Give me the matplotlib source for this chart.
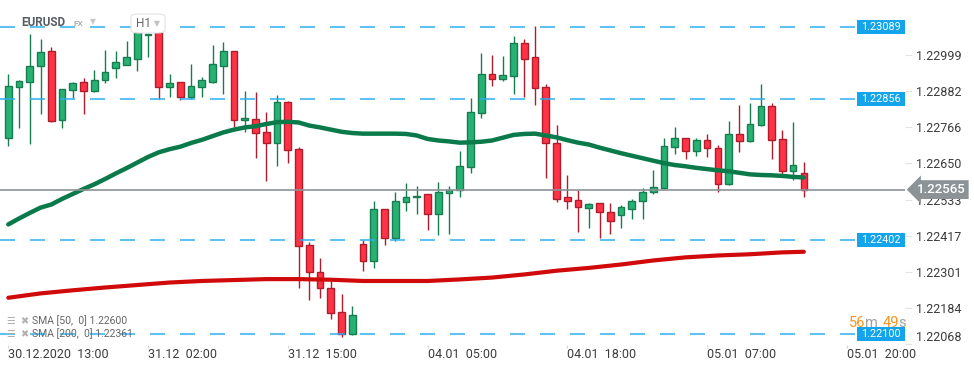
import matplotlib
matplotlib.use("Agg")
import matplotlib.pyplot as plt
import matplotlib.transforms as mtransforms
from matplotlib.patches import Rectangle, FancyBboxPatch

plt.rcParams["font.family"] = ["Roboto", "DejaVu Sans"]
plt.rcParams["lines.scale_dashes"] = False

# EURUSD H1 candles, 30.12.2020 13:00 onwards
opens = [1.22730, 1.22894, 1.22910, 1.22964, 1.23011, 1.22788, 1.22884, 1.22910, 1.22881, 1.22917,
         1.22955, 1.22967, 1.22984, 1.23061, 1.23072, 1.22894, 1.22910, 1.22862, 1.22894, 1.22912,
         1.22962, 1.23010, 1.22788, 1.22793, 1.22749, 1.22714, 1.22846, 1.22695, 1.22386, 1.22299,
         1.22250, 1.22170, 1.22099, 1.22389, 1.22334, 1.22501, 1.22408, 1.22524, 1.22540, 1.22550,
         1.22485, 1.22553, 1.22563, 1.22637, 1.22810, 1.22936, 1.22920, 1.22929, 1.23036, 1.22991,
         1.22894, 1.22714, 1.22540, 1.22530, 1.22505, 1.22521, 1.22492, 1.22482, 1.22501, 1.22527,
         1.22556, 1.22569, 1.22701, 1.22730, 1.22688, 1.22723, 1.22698, 1.22582, 1.22743, 1.22720,
         1.22772, 1.22833, 1.22727, 1.22624, 1.22617]
highs = [1.22936, 1.22918, 1.23066, 1.23050, 1.23024, 1.22889, 1.22912, 1.22925, 1.22950, 1.23014,
         1.23011, 1.23043, 1.23082, 1.23070, 1.23078, 1.22936, 1.22911, 1.22968, 1.22927, 1.23030,
         1.23039, 1.23011, 1.22881, 1.22878, 1.22814, 1.22868, 1.22849, 1.22701, 1.22398, 1.22344,
         1.22279, 1.22228, 1.22192, 1.22402, 1.22527, 1.22502, 1.22556, 1.22585, 1.22575, 1.22551,
         1.22588, 1.22575, 1.22688, 1.22859, 1.23003, 1.22997, 1.22994, 1.23059, 1.23049, 1.23090,
         1.22904, 1.22772, 1.22611, 1.22564, 1.22521, 1.22522, 1.22521, 1.22514, 1.22534, 1.22569,
         1.22627, 1.22730, 1.22765, 1.22731, 1.22730, 1.22743, 1.22707, 1.22785, 1.22836, 1.22843,
         1.22904, 1.22843, 1.22756, 1.22781, 1.22653]
lows = [1.22706, 1.22764, 1.22713, 1.22809, 1.22783, 1.22764, 1.22861, 1.22807, 1.22880, 1.22909,
        1.22925, 1.22966, 1.22947, 1.22991, 1.22855, 1.22864, 1.22852, 1.22855, 1.22864, 1.22909,
        1.22873, 1.22767, 1.22749, 1.22667, 1.22593, 1.22642, 1.22651, 1.22249, 1.22211, 1.22217,
        1.22149, 1.22091, 1.22098, 1.22304, 1.22313, 1.22388, 1.22400, 1.22497, 1.22487, 1.22436,
        1.22418, 1.22423, 1.22542, 1.22617, 1.22794, 1.22897, 1.22913, 1.22872, 1.22864, 1.22836,
        1.22603, 1.22524, 1.22501, 1.22427, 1.22440, 1.22410, 1.22421, 1.22440, 1.22472, 1.22472,
        1.22550, 1.22568, 1.22678, 1.22662, 1.22672, 1.22669, 1.22556, 1.22581, 1.22685, 1.22717,
        1.22769, 1.22662, 1.22614, 1.22595, 1.22540]
closes = [1.22898, 1.22914, 1.22964, 1.23008, 1.22786, 1.22888, 1.22907, 1.22881, 1.22917, 1.22942,
          1.22975, 1.22991, 1.23072, 1.23067, 1.22894, 1.22909, 1.22862, 1.22897, 1.22917, 1.22968,
          1.23010, 1.22788, 1.22796, 1.22746, 1.22714, 1.22846, 1.22691, 1.22382, 1.22299, 1.22247,
          1.22167, 1.22099, 1.22163, 1.22334, 1.22501, 1.22408, 1.22527, 1.22540, 1.22546, 1.22485,
          1.22556, 1.22563, 1.22640, 1.22814, 1.22936, 1.22920, 1.22933, 1.23036, 1.22984, 1.22891,
          1.22714, 1.22534, 1.22527, 1.22508, 1.22518, 1.22492, 1.22463, 1.22508, 1.22527, 1.22556,
          1.22572, 1.22704, 1.22730, 1.22688, 1.22723, 1.22698, 1.22582, 1.22743, 1.22720, 1.22775,
          1.22833, 1.22723, 1.22624, 1.22643, 1.22565]

sma50 = [1.22453, 1.22472, 1.22490, 1.22507, 1.22517, 1.22535, 1.22551, 1.22567, 1.22582, 1.22599,
         1.22617, 1.22634, 1.22652, 1.22670, 1.22685, 1.22695, 1.22703, 1.22715, 1.22725, 1.22737,
         1.22749, 1.22758, 1.22765, 1.22769, 1.22776, 1.22782, 1.22783, 1.22781, 1.22771, 1.22765,
         1.22758, 1.22751, 1.22747, 1.22745, 1.22745, 1.22745, 1.22745, 1.22744, 1.22739, 1.22728,
         1.22723, 1.22720, 1.22716, 1.22717, 1.22719, 1.22723, 1.22732, 1.22741, 1.22744, 1.22745,
         1.22739, 1.22733, 1.22724, 1.22716, 1.22710, 1.22700, 1.22691, 1.22682, 1.22674, 1.22666,
         1.22658, 1.22650, 1.22644, 1.22640, 1.22635, 1.22631, 1.22627, 1.22624, 1.22619, 1.22614,
         1.22612, 1.22611, 1.22609, 1.22606, 1.22604]
sma200_idx = [0, 3, 6, 9, 12, 15, 18, 21, 24, 27, 30, 33, 36, 39, 42, 45, 48, 51, 54, 57, 60, 63, 66,
              69, 72, 74]
sma200 = [1.22217, 1.22231, 1.22241, 1.22250, 1.22258, 1.22266, 1.22271, 1.22274, 1.22277, 1.22277,
          1.22275, 1.22271, 1.22271, 1.22271, 1.22276, 1.22282, 1.22292, 1.22304, 1.22313, 1.22324,
          1.22337, 1.22347, 1.22353, 1.22357, 1.22363, 1.22365]

levels = [1.23089, 1.22856, 1.22402, 1.22100]
last_price = 1.22565

ytick_vals = [1.22068, 1.22184, 1.22301, 1.22417, 1.22533, 1.22650, 1.22766, 1.22882, 1.22999]
xtick_idx = [0, 13, 26, 39, 52, 65, 78]
xtick_labels = ["30.12.2020  13:00", "31.12  02:00", "31.12  15:00", "04.01  05:00",
                "04.01  18:00", "05.01  07:00", "05.01  20:00"]

W, H = 974, 368
fig = plt.figure(figsize=(W / 100, H / 100), dpi=100)
ax = fig.add_axes([0, (H - 345) / H, 905 / W, 345 / H])
ax.set_xlim(-0.772, 83.41)
ax.set_ylim(1.22065, 1.23175)
for s in ax.spines.values():
    s.set_visible(False)

# candles
x = list(range(len(opens)))
up = [c >= o for o, c in zip(opens, closes)]
fills = ["#27b274" if u else "#ff3346" for u in up]
edges = ["#177d50" if u else "#b01c2c" for u in up]
bottoms = [min(o, c) for o, c in zip(opens, closes)]
heights = [max(abs(c - o), 0.00002) for o, c in zip(opens, closes)]
ax.vlines(x, lows, highs, colors=edges, linewidth=1.0, zorder=2)
ax.bar(x, heights, bottom=bottoms, width=0.62, color=fills, edgecolor=edges,
       linewidth=1.0, zorder=3)

# moving averages
ax.plot(x, sma50, color="#0a7a4a", lw=3.2, zorder=4, solid_capstyle="round")
ax.plot(sma200_idx, sma200, color="#d00a0a", lw=3.0, zorder=4, solid_capstyle="round")

# support / resistance levels
trans = mtransforms.blended_transform_factory(ax.transAxes, ax.transData)
px = (1.23175 - 1.22065) / 345
for lv in levels:
    ax.axhline(lv, 0, 857 / 905, color="#29aef0", lw=1.5, dashes=(10.8, 10.8),
               alpha=0.75, zorder=5)
    ax.add_patch(Rectangle((857 / 905, lv - 7 * px), 48 / 905, 14 * px, transform=trans,
                           fc="#13a4ec", ec="none", zorder=6, clip_on=False))
    ax.text(881 / 905, lv, f"{lv:.5f}", transform=trans, ha="center", va="center",
            color="white", fontsize=7.8, zorder=7)

# last price
ax.axhline(last_price, color="#8c9396", lw=1.2, zorder=5)
ax.text(1.0 + 12 / 905, last_price, f"{last_price:.5f}", transform=trans, ha="left",
        va="center", color="white", fontsize=9.5, fontweight="medium", zorder=8,
        clip_on=False, bbox=dict(boxstyle="larrow,pad=0.22", fc="#8c9396", ec="none"))

# axes ticks
ax.yaxis.tick_right()
ax.set_yticks(ytick_vals)
ax.set_yticklabels([f"{v:.5f}" for v in ytick_vals])
ax.tick_params(axis="y", length=5, color="#e3e3e3", pad=3, labelsize=9, labelcolor="#3c3c3c")
ax.get_yticklabels()[0].set_va("bottom")
ax.set_xticks(xtick_idx)
ax.set_xticklabels(xtick_labels)
ax.tick_params(axis="x", length=2, color="#d8d8d8", pad=0, labelsize=9, labelcolor="#3c3c3c")
for lab in ax.get_xticklabels():
    lab.set_ha("left")

# header
fig.text(21 / W, 1 - 23 / H, "EURUSD", fontsize=8.5, fontweight="bold", color="#555d63",
         va="center")
fig.text(74 / W, 1 - 24 / H, "FX", fontsize=6, fontweight="bold", color="#b0b0b0", va="center")
fig.text(90 / W, 1 - 22 / H, "▼", fontsize=5.5, color="#c8c8c8", va="center")
fig.add_artist(FancyBboxPatch((131 / W, 1 - 33 / H), 34 / W, 19 / H,
                              boxstyle="round,pad=0,rounding_size=0.008",
                              transform=fig.transFigure, fc="white", ec="#e2e2e2", lw=0.8))
fig.text(136 / W, 1 - 23.5 / H, "H1", fontsize=8.5, color="#666666", va="center")
fig.text(154 / W, 1 - 24 / H, "▼", fontsize=5.5, color="#c0c0c0", va="center")

# countdown
fig.text(849 / W, 1 - 323 / H, "56", fontsize=10.5, color="#f7941d", va="center")
fig.text(865 / W, 1 - 323 / H, "m", fontsize=10.5, color="#a0a0a0", va="center")
fig.text(883 / W, 1 - 323 / H, "49", fontsize=10.5, color="#f7941d", va="center")
fig.text(898 / W, 1 - 323 / H, "s", fontsize=10.5, color="#a0a0a0", va="center")

# indicator legend
for yy, name in [(321, "SMA [50,  0] 1.22600"), (334, "SMA [200,  0] 1.22361")]:
    fig.text(6 / W, 1 - yy / H, "☰", fontsize=7, color="#b0b0b0", va="center")
    fig.text(20 / W, 1 - yy / H, "✖", fontsize=7, color="#b0b0b0", va="center")
    fig.text(32 / W, 1 - yy / H, name, fontsize=7.5, color="#666666", va="center")

fig.savefig("out.png", dpi=100, facecolor="white")
